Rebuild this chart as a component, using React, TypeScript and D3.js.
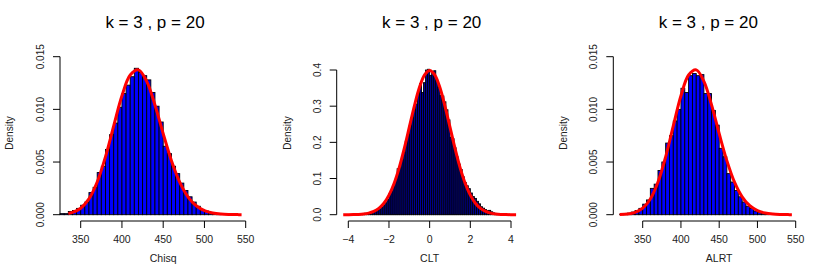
import { useMemo } from "react";
import * as d3 from "d3";

const WIDTH = 830;
const HEIGHT = 277;
const FONT = "'Liberation Sans', Arial, Helvetica, sans-serif";

const TITLE = "k = 3 , p = 20";

// histogram bins (bin start, density)
const CHISQ_BIN_START = 325;
const CHISQ_BIN_WIDTH = 5;
const CHISQ_VALUES = [
    0.0001, 0.0001, 0.0003, 0.0004, 0.0006, 0.0009, 0.0012, 0.0021, 0.0026, 0.004,
    0.0046, 0.0062, 0.0076, 0.0087, 0.0102, 0.0115, 0.0123, 0.0131, 0.0139, 0.0135,
    0.0132, 0.0128, 0.0116, 0.0103, 0.0088, 0.0065, 0.0058, 0.0046, 0.0039, 0.003,
    0.0023, 0.0017, 0.0012, 0.0008, 0.0005, 0.00035, 0.0002, 0.00012, 0.00005,
];

const ALRT_BIN_START = 320;
const ALRT_BIN_WIDTH = 5;
const ALRT_VALUES = [
    0.00005, 0.0001, 0.00015, 0.00025, 0.0004, 0.0006, 0.001, 0.0014, 0.0025, 0.0029,
    0.0042, 0.005, 0.0068, 0.0075, 0.0089, 0.01, 0.012, 0.0116, 0.0132, 0.0134,
    0.0132, 0.0133, 0.0115, 0.0115, 0.0099, 0.0085, 0.0063, 0.0055, 0.0039, 0.0031,
    0.0023, 0.0017, 0.0012, 0.0008, 0.0006, 0.00035, 0.0002, 0.00012, 0.00006,
];

const CLT_BIN_START = -3.5;
const CLT_BIN_WIDTH = 0.1;
const CLT_VALUES = [
    0.002, 0.002, 0.003, 0.004, 0.004, 0.006, 0.007, 0.009, 0.01, 0.013,
    0.016, 0.02, 0.027, 0.033, 0.042, 0.058, 0.066, 0.08, 0.098, 0.127,
    0.13, 0.152, 0.172, 0.203, 0.222, 0.247, 0.268, 0.29, 0.306, 0.337,
    0.362, 0.338, 0.365, 0.4, 0.402, 0.385, 0.396, 0.398, 0.372, 0.352,
    0.33, 0.328, 0.312, 0.29, 0.262, 0.214, 0.21, 0.185, 0.16, 0.14,
    0.125, 0.105, 0.089, 0.08, 0.072, 0.06, 0.05, 0.045, 0.037, 0.03,
    0.022, 0.018, 0.014, 0.011, 0.012, 0.008, 0.005, 0.003, 0.002,
];

// red reference curves
const CHISQ_CURVE_X = [320, 330, 335, 340, 350, 360, 370, 380, 390, 400, 410, 420, 430, 440, 450, 460, 470, 480, 490, 500, 510, 520, 530, 540, 545];
const CHISQ_CURVE_Y = [
    0.000015, 0.000062, 0.000118, 0.000214, 0.000617, 0.001495, 0.0031, 0.00549, 0.00843, 0.01129,
    0.01326, 0.01375, 0.01266, 0.01042, 0.00769, 0.00513, 0.00309, 0.0017, 0.000851, 0.000391,
    0.000165, 0.0000645, 0.0000233, 0.0000079, 0.0000045,
];

const NORMAL_CURVE_X = [
    -4.25, -4, -3.75, -3.5, -3.25, -3, -2.75, -2.5, -2.25, -2, -1.75, -1.5, -1.25, -1, -0.75, -0.5, -0.25,
    0, 0.25, 0.5, 0.75, 1, 1.25, 1.5, 1.75, 2, 2.25, 2.5, 2.75, 3, 3.25, 3.5, 3.75, 4, 4.25,
];
const NORMAL_CURVE_Y = [
    0.00005, 0.000134, 0.000353, 0.000873, 0.00203, 0.00443, 0.00909, 0.01753, 0.03174, 0.05399, 0.08628, 0.12952, 0.18265, 0.24197, 0.30114, 0.35207, 0.38667,
    0.39894, 0.38667, 0.35207, 0.30114, 0.24197, 0.18265, 0.12952, 0.08628, 0.05399, 0.03174, 0.01753, 0.00909, 0.00443, 0.00203, 0.000873, 0.000353, 0.000134, 0.00005,
];

// axis ticks
const CHISQ_X_TICKS = [350, 400, 450, 500, 550];
const CHISQ_Y_TICKS = [0, 0.005, 0.01, 0.015];
const CLT_X_TICKS = [-4, -2, 0, 2, 4];
const CLT_Y_TICKS = [0, 0.1, 0.2, 0.3, 0.4];

type PanelProps = {
    xLabel: string;
    binStart: number;
    binWidth: number;
    values: number[];
    barFill: string;
    curveX: number[];
    curveY: number[];
    curveFrom: number;
    curveTo: number;
    xTicks: number[];
    yTicks: number[];
    yDigits: number;
    xDomain: [number, number];
    xRange: [number, number];
    yRange: [number, number];
    axisX: number;
    titleX: number;
    densityX: number;
};

const AXIS_Y = 221;
const TICK = 7;

const fmtTick = (v: number) => (v < 0 ? "\u2212" + Math.abs(v) : String(v));

const Panel = (p: PanelProps) => {
    const xScale = useMemo(
        () => d3.scaleLinear().domain(p.xDomain).range(p.xRange),
        [p.xDomain, p.xRange]
    );
    const yScale = useMemo(
        () => d3.scaleLinear().domain([p.yTicks[0], p.yTicks[p.yTicks.length - 1]]).range(p.yRange),
        [p.yTicks, p.yRange]
    );

    const bars = p.values.map((v, i) => {
        const x0 = xScale(p.binStart + i * p.binWidth);
        const x1 = xScale(p.binStart + (i + 1) * p.binWidth);
        return (
            <rect
                key={i}
                x={x0}
                y={yScale(v)}
                width={x1 - x0}
                height={yScale(0) - yScale(v)}
                fill={p.barFill}
                stroke="#000"
                strokeWidth={0.9}
            />
        );
    });

    const pts: [number, number][] = p.curveX
        .map((x, i) => [x, p.curveY[i]] as [number, number])
        .filter((d) => d[0] >= p.curveFrom && d[0] <= p.curveTo);
    const line = d3
        .line<[number, number]>()
        .x((d) => xScale(d[0]))
        .y((d) => yScale(d[1]))
        .curve(d3.curveCatmullRom);

    const xt = p.xTicks;
    const yt = p.yTicks;

    return (
        <g fontFamily={FONT} fill="#000">
            <text x={p.titleX} y={28} fontSize={17} textAnchor="middle">
                {TITLE}
            </text>

            {bars}
            <path d={line(pts) || ""} fill="none" stroke="#ff0000" strokeWidth={3} />

            {/* x axis */}
            <line x1={xScale(xt[0])} x2={xScale(xt[xt.length - 1])} y1={AXIS_Y} y2={AXIS_Y} stroke="#000" />
            {xt.map((t) => (
                <g key={t}>
                    <line x1={xScale(t)} x2={xScale(t)} y1={AXIS_Y} y2={AXIS_Y + TICK} stroke="#000" />
                    <text x={xScale(t)} y={243} fontSize={10.5} textAnchor="middle" fill="#222">
                        {fmtTick(t)}
                    </text>
                </g>
            ))}
            <text x={(p.xRange[0] + p.xRange[1]) / 2} y={262} fontSize={10.5} textAnchor="middle" fill="#222">
                {p.xLabel}
            </text>

            {/* y axis */}
            <line x1={p.axisX} x2={p.axisX} y1={yScale(yt[0])} y2={yScale(yt[yt.length - 1])} stroke="#000" />
            {yt.map((t) => (
                <g key={t}>
                    <line x1={p.axisX - TICK} x2={p.axisX} y1={yScale(t)} y2={yScale(t)} stroke="#000" />
                    <text
                        transform={`translate(${p.axisX - 16},${yScale(t)}) rotate(-90)`}
                        fontSize={10}
                        textAnchor="middle"
                        fill="#222"
                    >
                        {t.toFixed(p.yDigits)}
                    </text>
                </g>
            ))}
            <text
                transform={`translate(${p.densityX + 4},133) rotate(-90)`}
                fontSize={10}
                textAnchor="middle"
                fill="#222"
            >
                Density
            </text>
        </g>
    );
};

export default function App() {
    return (
        <svg
            width={WIDTH}
            height={HEIGHT}
            style={{ position: "fixed", left: 0, top: 0, background: "#fff" }}
        >
            <rect width={WIDTH} height={HEIGHT} fill="#fff" />
            <Panel
                xLabel="Chisq"
                binStart={CHISQ_BIN_START}
                binWidth={CHISQ_BIN_WIDTH}
                values={CHISQ_VALUES}
                barFill="#0000ff"
                curveX={CHISQ_CURVE_X}
                curveY={CHISQ_CURVE_Y}
                curveFrom={335}
                curveTo={545}
                xTicks={CHISQ_X_TICKS}
                yTicks={CHISQ_Y_TICKS}
                yDigits={3}
                xDomain={[350, 550]}
                xRange={[80.7, 245.7]}
                yRange={[214.7, 56.7]}
                axisX={60}
                titleX={155}
                densityX={9.3}
            />
            <Panel
                xLabel="CLT"
                binStart={CLT_BIN_START}
                binWidth={CLT_BIN_WIDTH}
                values={CLT_VALUES}
                barFill="#00009a"
                curveX={NORMAL_CURVE_X}
                curveY={NORMAL_CURVE_Y}
                curveFrom={-4.25}
                curveTo={4.25}
                xTicks={CLT_X_TICKS}
                yTicks={CLT_Y_TICKS}
                yDigits={1}
                xDomain={[-4, 4]}
                xRange={[348.3, 511]}
                yRange={[214.7, 70]}
                axisX={336.7}
                titleX={431.7}
                densityX={287.3}
            />
            <Panel
                xLabel="ALRT"
                binStart={ALRT_BIN_START}
                binWidth={ALRT_BIN_WIDTH}
                values={ALRT_VALUES}
                barFill="#0000ff"
                curveX={CHISQ_CURVE_X}
                curveY={CHISQ_CURVE_Y}
                curveFrom={320}
                curveTo={545}
                xTicks={CHISQ_X_TICKS}
                yTicks={CHISQ_Y_TICKS}
                yDigits={3}
                xDomain={[350, 550]}
                xRange={[642.7, 795.7]}
                yRange={[214.7, 56.7]}
                axisX={613.3}
                titleX={708.3}
                densityX={563.3}
            />
        </svg>
    );
}
